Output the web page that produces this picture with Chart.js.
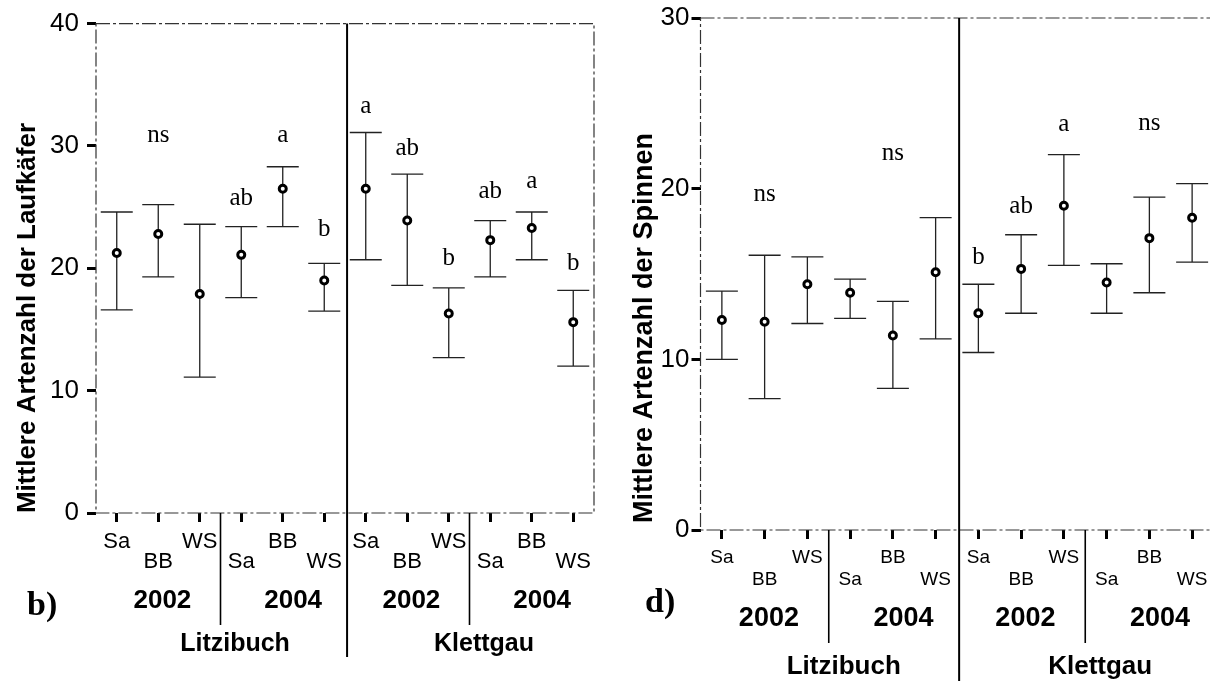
<!DOCTYPE html>
<html>
<head>
<meta charset="utf-8">
<script src="https://cdn.jsdelivr.net/npm/chart.js@4.4.0/dist/chart.umd.min.js"></script>
<style>
  html, body { margin: 0; padding: 0; background: #fff; width: 1210px; height: 681px; overflow: hidden; }
  canvas { position: absolute; top: 0; }
  #carab { left: 0; }
  #spiders { left: 600px; }
</style>
</head>
<body>
<canvas id="carab" width="610" height="681"></canvas>
<canvas id="spiders" width="630" height="681"></canvas>
<script>
// categories: habitat type per year and site
const habitats = ['Sa', 'BB', 'WS', 'Sa', 'BB', 'WS', 'Sa', 'BB', 'WS', 'Sa', 'BB', 'WS'];
const years = ['2002', '2004', '2002', '2004'];
const sites = ['Litzibuch', 'Klettgau'];

// b) Laufkäfer
const carabMean = [21.25, 22.8, 17.9, 21.1, 26.5, 19.0, 26.5, 23.9, 16.3, 22.3, 23.3, 15.6];
const carabUpper = [24.6, 25.2, 23.6, 23.4, 28.3, 20.4, 31.1, 27.7, 18.4, 23.9, 24.6, 18.2];
const carabLower = [16.6, 19.3, 11.1, 17.6, 23.4, 16.5, 20.7, 18.6, 12.7, 19.3, 20.7, 12.0];
const carabLetters = ['', 'ns', '', 'ab', 'a', 'b', 'a', 'ab', 'b', 'ab', 'a', 'b'];
const carabLetterAt = [null, 30.3, null, 25.2, 30.3, 22.6, 32.7, 29.25, 20.25, 25.75, 26.55, 19.85];

// d) Spinnen
const spiderMean = [12.3, 12.2, 14.4, 13.9, 11.4, 15.1, 12.7, 15.3, 19.0, 14.5, 17.1, 18.3];
const spiderUpper = [14.0, 16.1, 16.0, 14.7, 13.4, 18.3, 14.4, 17.3, 22.0, 15.6, 19.5, 20.3];
const spiderLower = [10.0, 7.7, 12.1, 12.4, 8.3, 11.2, 10.4, 12.7, 15.5, 12.7, 13.9, 15.7];
const spiderLetters = ['', 'ns', '', '', 'ns', '', 'b', 'ab', 'a', '', 'ns', ''];
const spiderLetterAt = [null, 19.25, null, null, 21.7, null, 15.6, 18.55, 23.35, null, 23.45, null];

// labels alternate between two rows
const tickLabels = habitats.map((h, i) => (i % 2 === 0 ? [h, ''] : ['', h]));

const SANS = 'Liberation Sans, Arial, sans-serif';
const SERIF = 'Liberation Serif, Times New Roman, serif';

/** draws frame, error bars, letters, group labels and titles */
const panelDeco = {
  id: 'panelDeco',
  beforeDatasetsDraw(chart, args, opts) {
    const { ctx, chartArea: a, scales: { x, y } } = chart;
    ctx.save();
    // frame
    ctx.strokeStyle = '#333';
    ctx.lineWidth = 1.2;
    ctx.setLineDash([14, 3, 3, 3]);
    ctx.strokeRect(a.left, a.top, a.right - a.left, a.bottom - a.top);
    ctx.setLineDash([]);
    // error bars
    ctx.strokeStyle = '#222';
    ctx.lineWidth = 1.3;
    opts.upper.forEach((u, i) => {
      const px = x.getPixelForValue(i);
      const top = y.getPixelForValue(u);
      const bot = y.getPixelForValue(opts.lower[i]);
      ctx.beginPath();
      ctx.moveTo(px, top); ctx.lineTo(px, bot);
      ctx.moveTo(px - 16, top); ctx.lineTo(px + 16, top);
      ctx.moveTo(px - 16, bot); ctx.lineTo(px + 16, bot);
      ctx.stroke();
    });
    ctx.restore();
  },
  afterDraw(chart, args, opts) {
    const { ctx, chartArea: a, scales: { x, y } } = chart;
    ctx.save();
    // separators
    ctx.strokeStyle = '#000';
    ctx.lineWidth = 2;
    const mx = x.getPixelForValue(5.55);
    ctx.beginPath(); ctx.moveTo(mx, a.top); ctx.lineTo(mx, opts.majorEnd); ctx.stroke();
    ctx.lineWidth = 1.6;
    [2.5, 8.5].forEach(v => {
      const sx = x.getPixelForValue(v);
      ctx.beginPath(); ctx.moveTo(sx, a.bottom); ctx.lineTo(sx, opts.minorEnd); ctx.stroke();
    });
    // significance letters
    ctx.fillStyle = '#000';
    ctx.textAlign = 'center';
    ctx.textBaseline = 'alphabetic';
    ctx.font = '25px ' + SERIF;
    opts.letters.forEach((t, i) => {
      if (!t) return;
      ctx.fillText(t, x.getPixelForValue(i), y.getPixelForValue(opts.letterAt[i]));
    });
    // years and sites
    ctx.font = 'bold ' + opts.yearSize + 'px ' + SANS;
    years.forEach((t, k) => {
      ctx.fillText(t, x.getPixelForValue(k * 3 + 1 + (k % 2 ? 0.25 : 0.1)), opts.yearBase);
    });
    ctx.font = 'bold ' + opts.siteSize + 'px ' + SANS;
    sites.forEach((t, k) => {
      ctx.fillText(t, x.getPixelForValue(k * 6 + 2.85), opts.siteBase);
    });
    // y title
    ctx.save();
    ctx.translate(opts.titleX, opts.titleY);
    ctx.rotate(-Math.PI / 2);
    ctx.font = 'bold ' + opts.titleSize + 'px ' + SANS;
    ctx.fillText(opts.title, 0, 0);
    ctx.restore();
    // panel letter
    ctx.textAlign = 'left';
    ctx.font = 'bold 34px ' + SERIF;
    ctx.fillText(opts.panel, opts.panelX, opts.panelBase);
    ctx.restore();
  }
};

function makeChart(id, cfg) {
  return new Chart(document.getElementById(id), {
    type: 'line',
    data: {
      labels: tickLabels,
      datasets: [{
        data: cfg.mean,
        showLine: false,
        pointRadius: 3.5,
        pointBorderWidth: 3,
        pointBorderColor: '#000',
        pointBackgroundColor: '#fff',
        clip: false
      }]
    },
    options: {
      responsive: false,
      animation: false,
      events: [],
      layout: { padding: { left: 0, top: cfg.padTop, right: cfg.padRight, bottom: 0 } },
      scales: {
        x: {
          type: 'category',
          offset: true,
          grid: { offset: false, drawOnChartArea: false, drawTicks: true, tickLength: 9, tickWidth: 3, tickColor: '#000' },
          border: { display: false },
          ticks: {
            autoSkip: false, maxRotation: 0, minRotation: 0, color: '#000', padding: cfg.xPad,
            font: { family: SANS, size: cfg.xSize, lineHeight: cfg.xLine }
          },
          afterFit: s => { s.height = cfg.xHeight; }
        },
        y: {
          min: 0,
          max: cfg.yMax,
          grid: { drawOnChartArea: false, drawTicks: true, tickLength: 9, tickWidth: 3, tickColor: '#000' },
          border: { display: false },
          ticks: { stepSize: 10, color: '#000', padding: cfg.yPad, font: { family: SANS, size: 26 } },
          afterFit: s => { s.width = cfg.yWidth; }
        }
      },
      plugins: {
        legend: { display: false },
        tooltip: { enabled: false },
        panelDeco: cfg.deco
      }
    },
    plugins: [panelDeco]
  });
}

makeChart('carab', {
  mean: carabMean, yMax: 40, padTop: 16, padRight: 16, yWidth: 96, xHeight: 168,
  xPad: 9, xSize: 22, xLine: 0.95, yPad: 8,
  deco: {
    upper: carabUpper, lower: carabLower, letters: carabLetters, letterAt: carabLetterAt,
    majorEnd: 657, minorEnd: 625, yearSize: 26, yearBase: 608, siteSize: 25, siteBase: 651,
    title: 'Mittlere Artenzahl der Laufkäfer', titleX: 35, titleY: 318, titleSize: 26,
    panel: 'b)', panelX: 27, panelBase: 615
  }
});

makeChart('spiders', {
  mean: spiderMean, yMax: 30, padTop: 18, padRight: 16.5, yWidth: 100.5, xHeight: 151,
  xPad: 8, xSize: 19, xLine: 1.15, yPad: 2,
  deco: {
    upper: spiderUpper, lower: spiderLower, letters: spiderLetters, letterAt: spiderLetterAt,
    majorEnd: 681, minorEnd: 643, yearSize: 27, yearBase: 626, siteSize: 26, siteBase: 674,
    title: 'Mittlere Artenzahl der Spinnen', titleX: 52, titleY: 328, titleSize: 27,
    panel: 'd)', panelX: 45, panelBase: 612
  }
});
</script>
</body>
</html>
